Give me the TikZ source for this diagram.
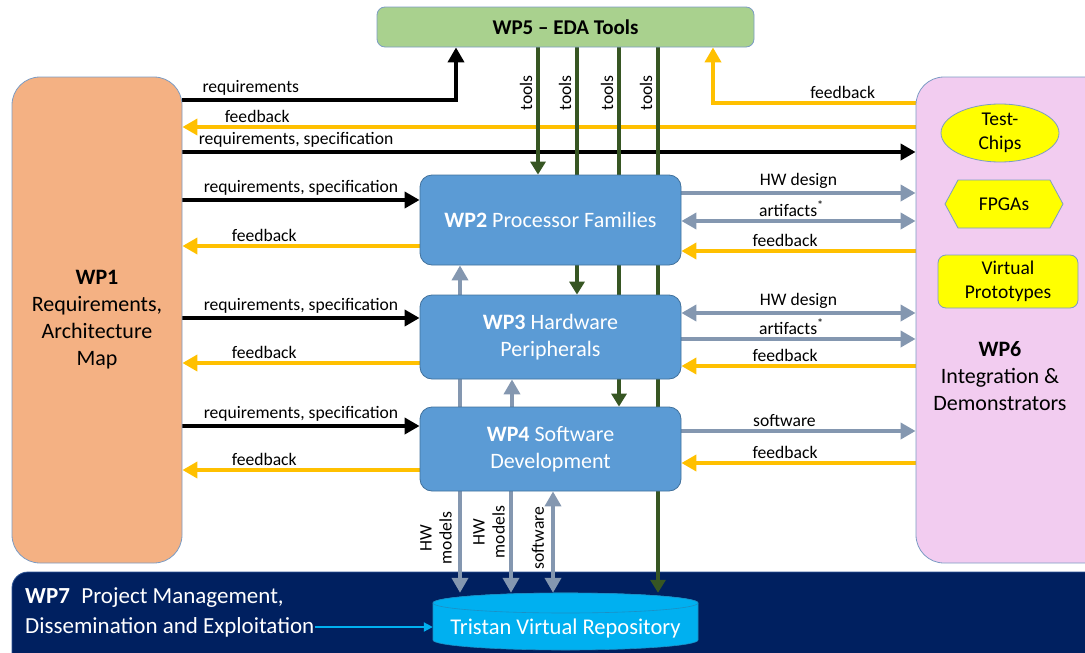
\documentclass[tikz,border=0pt]{standalone}
\usepackage{fontspec}
\setmainfont{Carlito}
\usetikzlibrary{arrows.meta,shapes.geometric}

\definecolor{wpgreen}{HTML}{A9D18E}
\definecolor{wporange}{HTML}{F4B183}
\definecolor{wppink}{HTML}{F2CCF0}
\definecolor{wpblue}{HTML}{5B9BD5}
\definecolor{wpborder}{HTML}{41719C}
\definecolor{softborder}{HTML}{7C9CC4}
\definecolor{flowgray}{HTML}{8497B0}
\definecolor{flowamber}{HTML}{FFC000}
\definecolor{flowgreen}{HTML}{375623}
\definecolor{wpnavy}{HTML}{002060}
\definecolor{navyedge}{HTML}{2F5597}
\definecolor{repocyan}{HTML}{00B0F0}
\definecolor{repoedge}{HTML}{1C8FC4}
\definecolor{chipyellow}{HTML}{FFFF00}

\pgfdeclarelayer{back}
\pgfdeclarelayer{lines}
\pgfsetlayers{back,lines,main}

\tikzset{
  wpbox/.style={rounded corners=12pt, draw=wpborder, line width=0.8pt, fill=wpblue,
    text=white, align=center, minimum width=261, inner sep=0pt,
    font=\fontsize{22}{27}\selectfont},
  sidebox/.style={rounded corners=28pt, draw=softborder, line width=0.8pt, align=center,
    inner sep=0pt, font=\fontsize{22}{27}\selectfont},
  chip/.style={fill=chipyellow, draw=softborder, line width=0.8pt, align=center,
    inner sep=0pt, font=\fontsize{19.5}{24}\selectfont},
  flow/.style={line width=4.5pt, -{Triangle[length=15pt,width=16pt]}},
  twoway/.style={line width=4.5pt, {Triangle[length=15pt,width=16pt]}-{Triangle[length=15pt,width=16pt]}},
  blk/.style={flow, draw=black},
  amb/.style={flow, draw=flowamber},
  gry/.style={flow, draw=flowgray},
  gryboth/.style={twoway, draw=flowgray},
  tool/.style={line width=4.5pt, draw=flowgreen, -{Triangle[length=13pt,width=15pt]}},
  lbl/.style={font=\fontsize{17.6}{20}\selectfont, inner sep=1pt, above=1.5pt},
  vlbl/.style={font=\fontsize{17.6}{20}\selectfont, rotate=90, align=center, inner sep=0pt},
}

\begin{document}
\begin{tikzpicture}[x=1pt,y=-1pt]
\useasboundingbox (0,0) rectangle (1085,653);
\clip (0,0) rectangle (1085,653);

% ---- work packages ----
\node[wpbox, fill=wpgreen, text=black, draw=softborder, rounded corners=8pt,
      minimum width=377, minimum height=40, font=\bfseries\fontsize{21}{25}\selectfont]
      (wp5) at (565.5,27) {WP5 – EDA Tools};

\node[sidebox, fill=wporange, minimum width=170, minimum height=486]
      (wp1) at (97,320) {\textbf{WP1}\\Requirements,\\Architecture\\Map};

\node[sidebox, fill=wppink, minimum width=200, minimum height=486]
      (wp6) at (1016,320) {};
\node[align=center, font=\fontsize{22}{27}\selectfont, inner sep=0pt]
      (wp6txt) at (1000,376) {\textbf{WP6}\\Integration \&\\Demonstrators};

\node[wpbox, minimum height=90] (wp2) at (550.5,220) {\textbf{WP2} Processor Families};
\node[wpbox, minimum height=84] (wp3) at (550.5,337) {\textbf{WP3} Hardware\\Peripherals};
\node[wpbox, minimum height=84] (wp4) at (550.5,449) {\textbf{WP4} Software\\Development};

% ---- demonstrator platforms ----
\node[chip, ellipse, minimum width=118, minimum height=58] (chips) at (1000,133) {Test-\\Chips};
\draw[fill=chipyellow, draw=softborder, line width=0.8pt]
  (945,204) -- (958,180) -- (1050,180) -- (1063,204) -- (1050,228) -- (958,228) -- cycle;
\node[align=center, inner sep=0pt, font=\fontsize{19.5}{24}\selectfont] (fpga) at (1004,204) {FPGAs};
\node[chip, rounded corners=8pt, minimum width=140, minimum height=53] (vproto) at (1008,281.5) {Virtual\\Prototypes};

% ---- project management bar and repository ----
\begin{pgfonlayer}{back}
\node[fill=wpnavy, draw=navyedge, line width=0.8pt, rounded corners=16pt,
      minimum width=1100, minimum height=100, inner sep=0pt] (wp7) at (562,622) {};
\end{pgfonlayer}
\node[anchor=base west, text=white, inner sep=0pt, font=\fontsize{23}{26}\selectfont]
      (wp7a) at (25,603) {\textbf{WP7}\enspace Project Management,};
\node[anchor=west, text=white, inner sep=0pt, font=\fontsize{23}{26}\selectfont]
      (wp7b) at (25,627) {Dissemination and Exploitation};

\node[minimum width=265, minimum height=57, inner sep=0pt] (cyl) at (565.5,621.5) {};
\path[fill=repocyan, draw=repoedge, line width=0.6pt]
  (433,603) -- (433,640) arc[start angle=180, end angle=360, x radius=132.5pt, y radius=10pt]
  -- (698,603) arc[start angle=0, end angle=180, x radius=132.5pt, y radius=10pt] -- cycle;
\draw[fill=repocyan, draw=repoedge, line width=0.6pt] (565.5,603) ellipse [x radius=132.5pt, y radius=10pt];
\node[text=white, inner sep=0pt, font=\fontsize{22.5}{26}\selectfont] (cyltxt) at (565.5,628) {Tristan Virtual Repository};

\draw[repocyan, line width=2pt, -{Triangle[length=9pt,width=9pt]}] (wp7b.east) -- (cyl.west |- wp7b.east);

% ---- flows ----
\begin{pgfonlayer}{lines}
\draw[blk] (wp1.east |- 0,100) -- node[lbl, pos=0.25]{requirements} (456,100) -- (wp5.south -| 456,0);
\draw[amb] (wp6.west |- 0,103) -- node[lbl, pos=0.36]{feedback} (713,103) -- (wp5.south -| 713,0);
\draw[amb] (wp6.west |- 0,127) -- node[lbl, pos=0.898]{feedback} (wp1.east |- 0,127);
\draw[blk] (wp1.east |- 0,152) -- node[lbl, pos=0.155]{requirements, specification} (wp6.west |- 0,152);

\foreach \wp/\req/\fb in {wp2/200/246, wp3/318/363, wp4/426/470} {
  \draw[blk] (wp1.east |- 0,\req) -- node[lbl, pos=0.5]{requirements, specification} (\wp.west |- 0,\req);
  \draw[amb] (\wp.west |- 0,\fb) -- node[lbl, pos=0.655]{feedback} (wp1.east |- 0,\fb);
}

\draw[gry] (wp2.east |- 0,193) -- node[lbl]{HW design} (wp6.west |- 0,193);
\draw[gryboth] (wp2.east |- 0,221) -- node[lbl, pos=0.47]{artifacts\textsuperscript{*}} (wp6.west |- 0,221);
\draw[amb] (wp6.west |- 0,251) -- node[lbl, pos=0.557]{feedback} (wp2.east |- 0,251);
\draw[gryboth] (wp3.east |- 0,313) -- node[lbl]{HW design} (wp6.west |- 0,313);
\draw[gry] (wp3.east |- 0,339) -- node[lbl, pos=0.47]{artifacts\textsuperscript{*}} (wp6.west |- 0,339);
\draw[amb] (wp6.west |- 0,366) -- node[lbl, pos=0.557]{feedback} (wp3.east |- 0,366);
\draw[gry] (wp4.east |- 0,431) -- node[lbl, pos=0.44]{software} (wp6.west |- 0,431);
\draw[amb] (wp6.west |- 0,463) -- node[lbl, pos=0.557]{feedback} (wp4.east |- 0,463);

\draw[gry] (wp4.north -| 460,0) -- (wp2.south -| 460,0);
\draw[gry] (wp4.north -| 512,0) -- (wp3.south -| 512,0);
\draw[gry] (wp4.south -| 460,0) -- (cyl.north -| 460,0);
\draw[gry] (wp4.south -| 511,0) -- (cyl.north -| 511,0);
\draw[gryboth] (cyl.north -| 553,0) -- (wp4.south -| 553,0);

\foreach \x/\t in {538/wp2.north, 577/wp3.north, 619/wp4.north, 658/cyl.north} {
  \draw[tool] (wp5.south -| \x,0) -- (\t -| \x,0);
  \node[vlbl] at ({\x-12},93) {tools};
}
\end{pgfonlayer}

\node[vlbl] (hwm1) at (436,538) {HW\\models};
\node[vlbl] (hwm2) at (489,532) {HW\\models};
\node[vlbl] (swl) at (538,538) {software};

\end{tikzpicture}
\end{document}
